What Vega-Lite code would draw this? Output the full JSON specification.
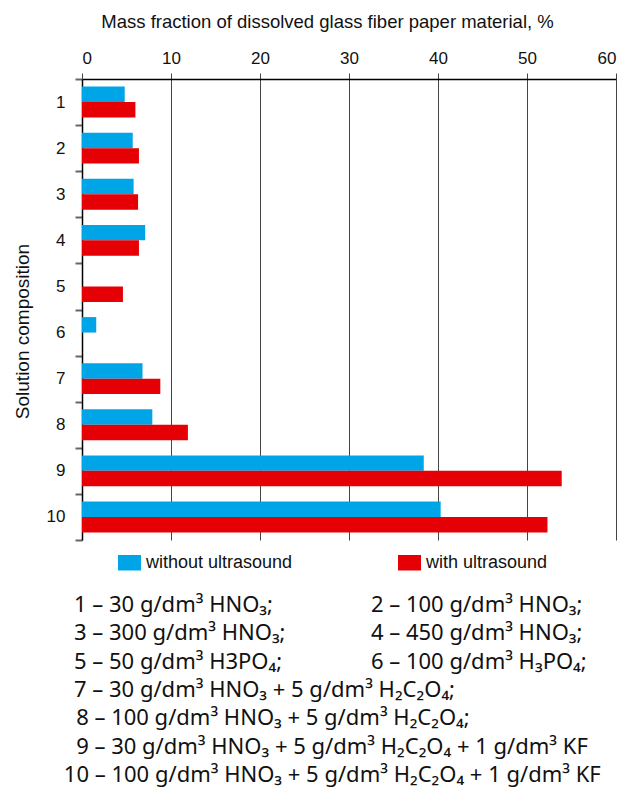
{
  "$schema": "https://vega.github.io/schema/vega-lite/v6.json",
  "padding": {"left": 13, "top": 12, "right": 0, "bottom": 0},
  "spacing": 50,
  "config": {"view": {"stroke": null}, "font": "Liberation Sans"},
  "vconcat": [
    {
      "width": 534,
      "height": 461,
      "data": {
        "values": [
          {"c": 1, "s": "without ultrasound", "v": 4.8},
          {"c": 1, "s": "with ultrasound", "v": 6.0},
          {"c": 2, "s": "without ultrasound", "v": 5.7},
          {"c": 2, "s": "with ultrasound", "v": 6.4},
          {"c": 3, "s": "without ultrasound", "v": 5.8},
          {"c": 3, "s": "with ultrasound", "v": 6.3},
          {"c": 4, "s": "without ultrasound", "v": 7.1},
          {"c": 4, "s": "with ultrasound", "v": 6.4},
          {"c": 5, "s": "with ultrasound", "v": 4.6},
          {"c": 6, "s": "without ultrasound", "v": 1.6},
          {"c": 7, "s": "without ultrasound", "v": 6.8},
          {"c": 7, "s": "with ultrasound", "v": 8.8},
          {"c": 8, "s": "without ultrasound", "v": 7.9},
          {"c": 8, "s": "with ultrasound", "v": 11.9},
          {"c": 9, "s": "without ultrasound", "v": 38.4},
          {"c": 9, "s": "with ultrasound", "v": 53.9},
          {"c": 10, "s": "without ultrasound", "v": 40.3},
          {"c": 10, "s": "with ultrasound", "v": 52.3}
        ]
      },
      "mark": {"type": "bar"},
      "encoding": {
        "y": {
          "field": "c",
          "type": "ordinal",
          "scale": {"paddingInner": 0, "paddingOuter": 0},
          "title": "Solution composition",
          "axis": {
            "tickBand": "extent",
            "tickSize": 7,
            "tickColor": "#666",
            "tickWidth": 2,
            "domainColor": "#000",
            "domainWidth": 1.5,
            "labelFontSize": 17,
            "labelPadding": 10,
            "labelColor": "#111",
            "labelAngle": 0,
            "titleFontSize": 19,
            "titleFontWeight": "normal",
            "titleColor": "#111",
            "titlePadding": 14,
            "titleY": 252
          }
        },
        "yOffset": {
          "field": "s",
          "type": "nominal",
          "scale": {"domain": ["without ultrasound", "with ultrasound"], "paddingOuter": 0.49, "paddingInner": 0}
        },
        "x": {
          "field": "v",
          "type": "quantitative",
          "scale": {"domain": [0, 60], "nice": false},
          "title": "Mass fraction of dissolved glass fiber paper material, %",
          "axis": {
            "orient": "top",
            "values": [0, 10, 20, 30, 40, 50, 60],
            "grid": true,
            "gridColor": "#444",
            "gridOpacity": 1,
            "tickSize": 6,
            "tickColor": "#444",
            "domainColor": "#000",
            "domainWidth": 1.5,
            "labelFontSize": 17,
            "labelPadding": 6,
            "labelColor": "#111",
            "titleFontSize": 18.5,
            "titleFontWeight": "normal",
            "titleColor": "#111",
            "titlePadding": 18,
            "titleX": 245
          }
        },
        "color": {
          "field": "s",
          "type": "nominal",
          "scale": {"domain": ["without ultrasound", "with ultrasound"], "range": ["#00a5e8", "#e50005"]},
          "legend": {
            "orient": "none",
            "legendX": 36,
            "legendY": 472,
            "title": null,
            "direction": "horizontal",
            "columnPadding": 105,
            "labelFontSize": 18,
            "labelColor": "#111",
            "labelOffset": 5,
            "symbolType": "M-1,-0.674H1V0.674H-1Z",
            "symbolSize": 529,
            "symbolStrokeWidth": 0,
            "symbolOpacity": 1
          }
        }
      }
    },
    {
      "width": 534,
      "height": 198,
      "data": {
        "values": [
          {"row": 1, "x": -1.5, "t": "1 – 30 g/dm³ HNO₃;"},
          {"row": 1, "x": 54.1, "t": "2 – 100 g/dm³ HNO₃;"},
          {"row": 2, "x": -1.5, "t": "3 – 300 g/dm³ HNO₃;"},
          {"row": 2, "x": 54.1, "t": "4 – 450 g/dm³ HNO₃;"},
          {"row": 3, "x": -1.5, "t": "5 – 50 g/dm³ H3PO₄;"},
          {"row": 3, "x": 54.1, "t": "6 – 100 g/dm³ H₃PO₄;"},
          {"row": 4, "x": -1.5, "t": "7 – 30 g/dm³ HNO₃ + 5 g/dm³ H₂C₂O₄;"},
          {"row": 5, "x": -1.1, "t": "8 – 100 g/dm³ HNO₃ + 5 g/dm³ H₂C₂O₄;"},
          {"row": 6, "x": -1.1, "t": "9 – 30 g/dm³ HNO₃ + 5 g/dm³ H₂C₂O₄ + 1 g/dm³ KF"},
          {"row": 7, "x": -3.4, "t": "10 – 100 g/dm³ HNO₃ + 5 g/dm³ H₂C₂O₄ + 1 g/dm³ KF"}
        ]
      },
      "mark": {"type": "text", "align": "left", "baseline": "middle", "font": "Noto Sans", "fontSize": 22, "color": "#111"},
      "encoding": {
        "x": {"field": "x", "type": "quantitative", "scale": {"domain": [0, 100], "nice": false, "zero": false}, "axis": null},
        "y": {"field": "row", "type": "ordinal", "scale": {"type": "point", "padding": 0.5}, "axis": null},
        "text": {"field": "t"}
      }
    }
  ]
}
